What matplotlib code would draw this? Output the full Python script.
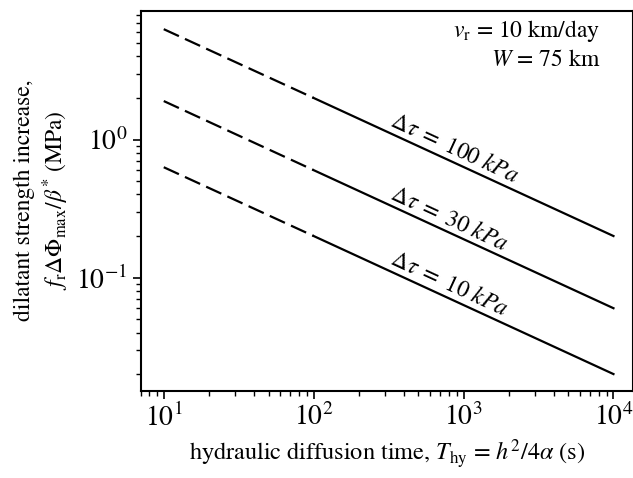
import numpy as np
import matplotlib
matplotlib.use("Agg")
import matplotlib.pyplot as plt

plt.rcParams['font.family'] = ['STIXGeneral', 'DejaVu Serif']
plt.rcParams['mathtext.fontset'] = 'stix'
plt.rcParams['xtick.direction'] = 'out'
plt.rcParams['ytick.direction'] = 'out'

# hydraulic diffusion time (s): dashed part, solid part
x_dashed = [10, 100]
x_solid = [100, 1e4]

# dilatant strength increase (MPa) at x = 10, 100, 1e4
y_100kpa = [6.3, 2.0, 0.2]
y_30kpa = [1.9, 0.6, 0.06]
y_10kpa = [0.63, 0.2, 0.02]

labels = [r'$\Delta\tau\;=\;100\ kPa$', r'$\Delta\tau\;=\;30\ kPa$', r'$\Delta\tau\;=\;10\ kPa$']
label_x = 316

fig = plt.figure(figsize=(6.33, 4.78), dpi=100)
ax = fig.add_axes([0.222, 0.183, 0.778, 0.795])
ax.set_xscale('log')
ax.set_yscale('log')
ax.set_xlim(7.0, 1.35e4)
ax.set_ylim(0.0152, 8.6)

for ys in [y_100kpa, y_30kpa, y_10kpa]:
    ax.plot(x_dashed, ys[:2], 'k', linewidth=1.6, dashes=(7.5, 3))
    ax.plot(x_solid, ys[1:], 'k-', linewidth=1.6)

# angle of the lines on screen
p = ax.transData.transform([(x_solid[0], y_100kpa[1]), (x_solid[1], y_100kpa[2])])
ang = np.degrees(np.arctan2(p[1, 1] - p[0, 1], p[1, 0] - p[0, 0]))

for ys, lab in zip([y_100kpa, y_30kpa, y_10kpa], labels):
    # value on the line at label_x (straight segment in log-log)
    t = (np.log10(label_x) - np.log10(x_solid[0])) / (np.log10(x_solid[1]) - np.log10(x_solid[0]))
    yv = 10 ** (np.log10(ys[1]) + t * (np.log10(ys[2]) - np.log10(ys[1])))
    ax.annotate(lab, (label_x, yv), xytext=(0, 5), textcoords='offset points',
                rotation=ang, rotation_mode='anchor', ha='left', va='baseline', fontsize=17)

ax.text(0.933, 0.930, r'$v_\mathrm{r}$ = 10 km/day', transform=ax.transAxes,
        ha='right', va='baseline', fontsize=17)
ax.text(0.933, 0.854, r'$W$ = 75 km', transform=ax.transAxes,
        ha='right', va='baseline', fontsize=17)

ax.set_xlabel(r'hydraulic diffusion time, $T_\mathrm{hy}$ = $h^2/4\alpha$ (s)', fontsize=17.5)
ax.set_ylabel('dilatant strength increase,\n' + r'$f_\mathrm{r}\Delta\Phi_\mathrm{max}/\beta^{*}$ (MPa)', fontsize=17)
ax.tick_params(which='major', length=6, width=1.2, labelsize=20)
ax.tick_params(which='minor', length=3.5, width=1.0)
for s in ax.spines.values():
    s.set_linewidth(1.5)

plt.savefig('out.png', dpi=100)
